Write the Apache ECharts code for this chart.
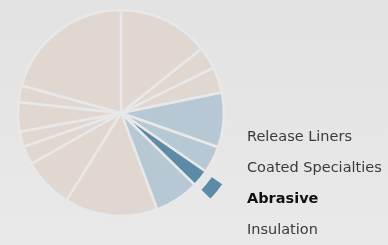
<!DOCTYPE html>
<html>
<head>
<meta charset="utf-8">
<script src="https://cdn.jsdelivr.net/npm/echarts@6/dist/echarts.min.js"></script>
<style>
  html, body { margin: 0; padding: 0; background: #e5e5e5; }
  #pieChart { width: 388px; height: 245px; }
</style>
</head>
<body>
<div id="pieChart"></div>
<script>
// 扇区名称（顺时针，从12点方向开始）
var names = ['Labels', 'Tapes', 'Films', 'Release Liners', 'Coated Specialties', 'Abrasive',
  'Insulation', 'Packaging', 'Graphics', 'Medical', 'Filtration', 'Automotive', 'Electronics', 'Other'];
// 各扇区数值 (%)
var values = [14.3, 3.5, 4.0, 8.6, 4.2, 2.7, 7.0, 14.6, 7.9, 2.9, 2.4, 4.6, 2.6, 20.7];
// 图例只显示这几个
var legendNames = ['Release Liners', 'Coated Specialties', 'Abrasive', 'Insulation'];
var highlightName = 'Abrasive';

var chart = echarts.init(document.getElementById('pieChart'));

var beige = '#e0d7d1', lightBlue = '#b6c8d4', darkBlue = '#5b8ba6', gap = '#e8e8e8';

function colorOf(name) {
  if (name == highlightName) return darkBlue;
  if (legendNames.indexOf(name) != -1) return lightBlue;
  return beige;
}

var mainData = names.map(function (n, i) {
  return { name: n, value: values[i], itemStyle: { color: colorOf(n) } };
});
// 外圈：只显示选中的那一块
var ringData = names.map(function (n, i) {
  return {
    name: n, value: values[i],
    itemStyle: n == highlightName
      ? { color: darkBlue, borderColor: gap, borderWidth: 2.5 }
      : { color: 'transparent', borderWidth: 0 }
  };
});

var option = {
  animation: false,
  backgroundColor: {
    type: 'linear', x: 0, y: 0, x2: 0, y2: 1,
    colorStops: [{ offset: 0, color: '#e2e2e2' }, { offset: 1, color: '#e9e9e9' }]
  },
  legend: {
    orient: 'vertical',
    left: 237,
    top: 125,
    icon: 'none',
    itemWidth: 0,
    itemHeight: 14,
    itemGap: 16,
    selectedMode: false,
    textStyle: { color: '#3a3a3a', fontSize: 14.5, fontFamily: 'DejaVu Sans' },
    data: legendNames.map(function (n) {
      return n == highlightName ? { name: n, textStyle: { fontWeight: 'bold', color: '#111' } } : { name: n };
    })
  },
  series: [
    {
      type: 'pie',
      center: [121, 113],
      radius: [0, 103],
      startAngle: 90,
      clockwise: true,
      silent: true,
      label: { show: false },
      labelLine: { show: false },
      itemStyle: { borderColor: gap, borderWidth: 2.5 },
      data: mainData
    },
    {
      type: 'pie',
      center: [121, 113],
      radius: [110, 125],
      startAngle: 90,
      clockwise: true,
      silent: true,
      label: { show: false },
      labelLine: { show: false },
      data: ringData
    }
  ]
};

chart.setOption(option);
</script>
</body>
</html>
